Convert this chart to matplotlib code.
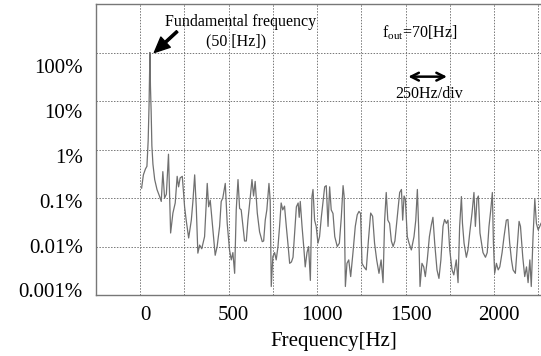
#!/usr/bin/env python3

import matplotlib
matplotlib.use("Agg")
import matplotlib.pyplot as plt
import matplotlib.transforms as mtransforms

# spectrum: frequency [Hz], amplitude [% of fundamental]
freq = [8, 18, 30, 38, 45, 50, 55, 58, 62, 66, 72, 82, 95, 110, 119, 128, 138,
        148, 160, 172, 185, 198, 209, 217, 226, 238, 251, 260, 274, 289, 298,
        308, 317, 326, 336, 348, 364, 379, 387, 396, 411, 424, 435, 449, 458,
        467, 481, 492, 505, 515, 524, 534, 543, 553, 562, 571, 581, 590, 600,
        609, 619, 632, 641, 650, 662, 675, 690, 698, 707, 716, 728, 735, 741,
        750, 760, 769, 779, 788, 797, 806, 816, 826, 835, 845, 855, 864, 873,
        883, 893, 899, 905, 915, 926, 933, 943, 952, 962, 971, 977, 986, 995,
        1005, 1014, 1024, 1033, 1043, 1052, 1062, 1071, 1080, 1090, 1100, 1114,
        1126, 1137, 1147, 1153, 1160, 1169, 1179, 1190, 1203, 1216, 1227, 1237,
        1246, 1254, 1265, 1278, 1290, 1303, 1314, 1325, 1337, 1350, 1362, 1373,
        1382, 1391, 1400, 1410, 1420, 1430, 1440, 1450, 1458, 1467, 1477, 1484,
        1492, 1499, 1510, 1520, 1533, 1548, 1558, 1567, 1574, 1582, 1593, 1603,
        1612, 1623, 1635, 1646, 1655, 1665, 1678, 1689, 1700, 1712, 1721, 1731,
        1740, 1750, 1763, 1773, 1787, 1797, 1806, 1816, 1822, 1831, 1844, 1853,
        1863, 1876, 1887, 1895, 1904, 1912, 1921, 1938, 1952, 1962, 1972, 1982,
        1991, 1997, 2004, 2014, 2024, 2033, 2046, 2057, 2070, 2079, 2089, 2099,
        2108, 2121, 2132, 2142, 2150, 2163, 2174, 2184, 2193, 2203, 2211, 2221,
        2231, 2240, 2250, 2259, 2266]
amp = [0.16, 0.3, 0.4, 0.45, 1.5, 8, 100, 20, 6, 1.2, 0.5, 0.24, 0.15, 0.107,
       0.085, 0.35, 0.1, 0.12, 0.8, 0.019, 0.049, 0.079, 0.28, 0.17, 0.26,
       0.28, 0.066, 0.035, 0.015, 0.035, 0.085, 0.3, 0.066, 0.0073, 0.0107,
       0.009, 0.016, 0.2, 0.066, 0.09, 0.022, 0.0066, 0.01, 0.026, 0.085, 0.1,
       0.2, 0.03, 0.0085, 0.0053, 0.0075, 0.0028, 0.057, 0.24, 0.061, 0.057,
       0.026, 0.013, 0.013, 0.035, 0.079, 0.24, 0.11, 0.22, 0.049, 0.02,
       0.0126, 0.013, 0.035, 0.057, 0.2, 0.09, 0.0015, 0.0062, 0.0075, 0.0053,
       0.01, 0.026, 0.079, 0.057, 0.068, 0.026, 0.0117, 0.0045, 0.0048, 0.006,
       0.019, 0.066, 0.079, 0.04, 0.085, 0.026, 0.0085, 0.0038, 0.0075, 0.01,
       0.002, 0.107, 0.15, 0.035, 0.026, 0.0117, 0.016, 0.04, 0.079, 0.17,
       0.18, 0.026, 0.17, 0.057, 0.048, 0.016, 0.01, 0.0117, 0.04, 0.18, 0.11,
       0.0015, 0.0045, 0.0053, 0.0024, 0.0075, 0.026, 0.045, 0.053, 0.048,
       0.0045, 0.0038, 0.0033, 0.013, 0.049, 0.042, 0.0117, 0.0053, 0.0028,
       0.0053, 0.0018, 0.035, 0.13, 0.035, 0.03, 0.013, 0.01, 0.013, 0.03,
       0.057, 0.13, 0.15, 0.035, 0.11, 0.095, 0.016, 0.0117, 0.0085, 0.016,
       0.035, 0.15, 0.026, 0.0015, 0.0045, 0.0038, 0.0024, 0.0053, 0.016,
       0.028, 0.04, 0.0117, 0.0033, 0.0022, 0.0053, 0.026, 0.036, 0.03, 0.035,
       0.0085, 0.0033, 0.0026, 0.0053, 0.0018, 0.026, 0.107, 0.03, 0.0117,
       0.006, 0.0085, 0.019, 0.049, 0.13, 0.026, 0.095, 0.11, 0.019, 0.0075,
       0.006, 0.0075, 0.026, 0.057, 0.13, 0.0117, 0.0028, 0.0045, 0.0033,
       0.0038, 0.0075, 0.016, 0.035, 0.036, 0.0117, 0.0053, 0.0033, 0.0028,
       0.01, 0.033, 0.026, 0.006, 0.0024, 0.0038, 0.0018, 0.0053, 0.0015,
       0.016, 0.095, 0.03, 0.022, 0.026, 0.03]

xticks = [0, 500, 1000, 1500, 2000]
grid_x = [0, 250, 500, 750, 1000, 1250, 1500, 1750, 2000, 2250]
yticks = [1e-3, 1e-2, 1e-1, 1, 10, 100]
ytick_labels = ["0.001%", "0.01%", "0.1%", "1%", "10%", "100%"]

plt.rcParams["font.family"] = ["Liberation Serif", "DejaVu Serif"]
plt.rcParams["mathtext.fontset"] = "custom"
plt.rcParams["mathtext.rm"] = "Liberation Serif"

fig = plt.figure(figsize=(5.41, 3.56), dpi=100)
ax = fig.add_axes([0.1774, 0.1713, 0.8226, 0.8174])

ax.plot(freq, amp, color="#707070", lw=0.9)

ax.set_yscale("log")
ax.set_xlim(-250, 2266)
ax.set_ylim(1e-3, 1e3)

# grid
ax.set_yticks(yticks)
ax.yaxis.set_minor_locator(matplotlib.ticker.NullLocator())
for g in grid_x:
    ax.axvline(g, color="#777777", lw=0.7, ls=(0, (1.5, 1.5)), zorder=0)
for g in yticks:
    ax.axhline(g, color="#777777", lw=0.7, ls=(0, (1.5, 1.5)), zorder=0)

ax.set_xticks(xticks)
ax.set_xticklabels([str(t) for t in xticks])
ax.tick_params(axis="x", which="both", length=0, pad=8, labelsize=15)
offset = mtransforms.ScaledTranslation(5 / 100, 0, fig.dpi_scale_trans)
for lab in ax.get_xticklabels():
    lab.set_transform(lab.get_transform() + offset)
ax.tick_params(axis="y", which="both", length=0, left=False, labelleft=False)

# labels in the scan sit on a slightly squeezed scale
lab_ax = ax.twinx()
lab_ax.set_yscale("log")
lab_ax.set_ylim(10 ** -3.103, 10 ** 3.393)
lab_ax.set_yticks(yticks)
lab_ax.set_yticklabels(ytick_labels)
lab_ax.yaxis.set_minor_locator(matplotlib.ticker.NullLocator())
lab_ax.tick_params(axis="y", length=0, pad=9.5, labelsize=15,
                   left=True, labelleft=True, right=False, labelright=False)
for s in lab_ax.spines.values():
    s.set_visible(False)

for s in ["top", "left", "bottom"]:
    ax.spines[s].set_color("#777777")
    ax.spines[s].set_linewidth(1.0)
ax.spines["right"].set_visible(False)

ax.set_xlabel("Frequency[Hz]", fontsize=15)
ax.xaxis.set_label_coords(0.535, -0.127)

ax.annotate("", xy=(80, 100), xytext=(209, 272),
            arrowprops=dict(facecolor="black", edgecolor="black", width=1.6,
                            headwidth=10, headlength=11, shrink=0))
ax.text(0.326, 0.938, "Fundamental frequency", transform=ax.transAxes,
        ha="center", va="center", fontsize=11.5)
ax.text(0.315, 0.870, "(50 [Hz])", transform=ax.transAxes,
        ha="center", va="center", fontsize=11.5)
ax.text(0.727, 0.900, r"f$_{\rm out}$=70[Hz]", transform=ax.transAxes,
        ha="center", va="center", fontsize=11.5)
ax.annotate("", xy=(1500, 31.8), xytext=(1750, 31.8),
            arrowprops=dict(arrowstyle="<->", color="black", lw=1.8,
                            mutation_scale=14))
ax.text(0.748, 0.691, "250Hz/div", transform=ax.transAxes,
        ha="center", va="center", fontsize=11.5)

plt.savefig("out.png", dpi=100)
